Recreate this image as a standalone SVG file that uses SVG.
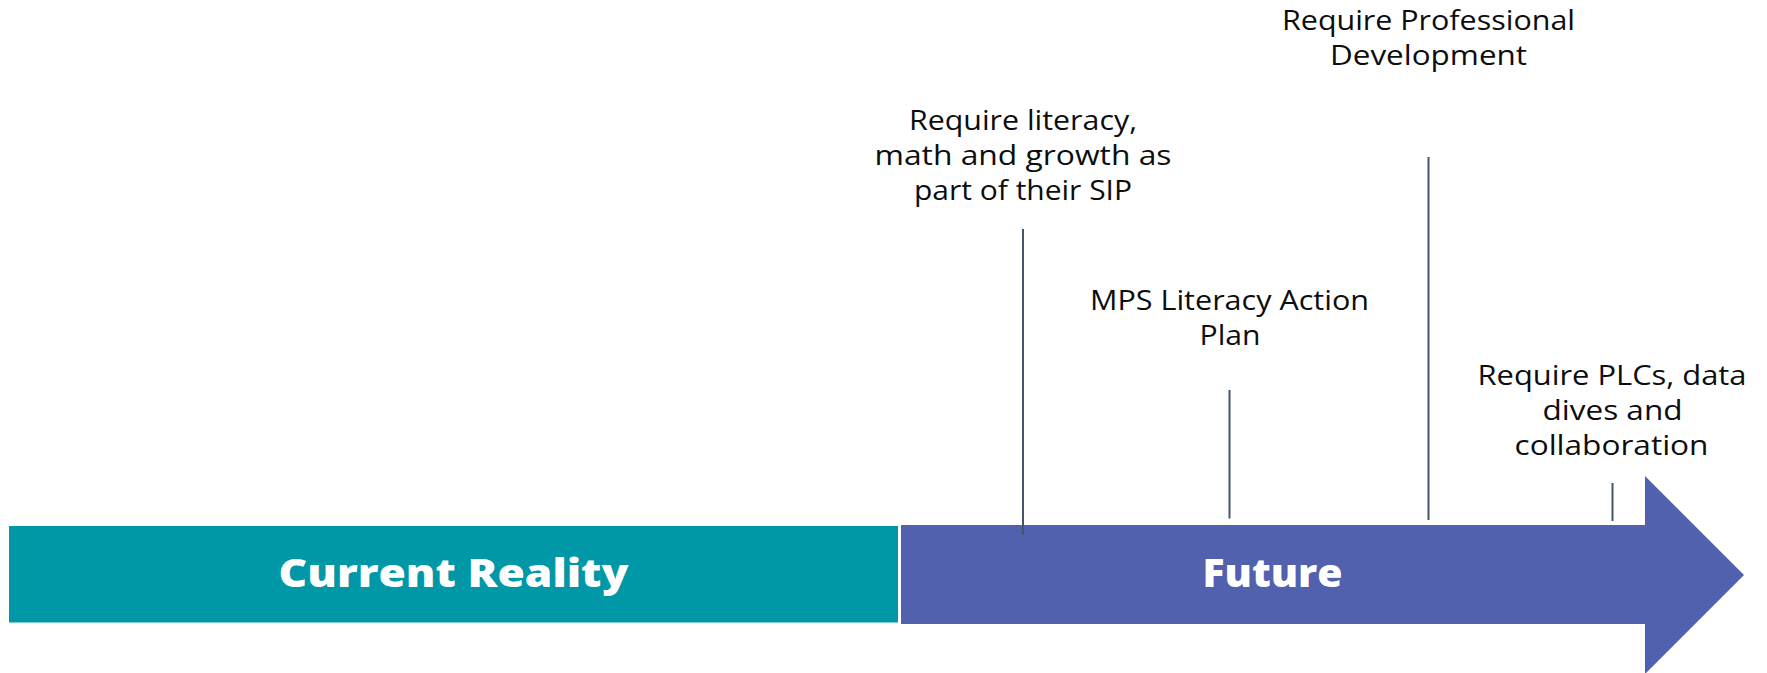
<svg xmlns="http://www.w3.org/2000/svg" width="1767" height="673" viewBox="0 0 1767 673">
  <style>
    .lbl { font-family: "Open Sans", "Liberation Sans", sans-serif; font-size: 27px; fill: #0d0d0d; text-anchor: middle; }
    .band { font-family: "Open Sans", "Liberation Sans", sans-serif; font-size: 39px; font-weight: 800; fill: #ffffff; text-anchor: middle; }
    .tick { stroke: #44546A; stroke-width: 2; fill: none; }
  </style>
  <rect width="1767" height="673" fill="#ffffff"/>
  <g id="current-reality">
    <rect x="9" y="526" width="889" height="96.5" fill="#0097A7"/>
    <text class="band" x="453.5" y="587" textLength="350" lengthAdjust="spacingAndGlyphs">Current Reality</text>
  </g>
  <g id="future">
    <path d="M901 525 H1645 V476 L1744 575 L1645 674 V624 H901 Z" fill="#5161AD"/>
    <text class="band" x="1272.5" y="587" textLength="140" lengthAdjust="spacingAndGlyphs">Future</text>
  </g>
  <g id="connectors">
    <line class="tick" x1="1023" y1="229" x2="1023" y2="535"/>
    <line class="tick" x1="1229.5" y1="390" x2="1229.5" y2="518.5"/>
    <line class="tick" x1="1428.5" y1="157" x2="1428.5" y2="520"/>
    <line class="tick" x1="1612.5" y1="483" x2="1612.5" y2="521"/>
  </g>
  <g id="sip">
    <text class="lbl" x="1023" y="130" textLength="228" lengthAdjust="spacingAndGlyphs">Require literacy,</text>
    <text class="lbl" x="1023" y="165" textLength="297" lengthAdjust="spacingAndGlyphs">math and growth as</text>
    <text class="lbl" x="1023" y="200" textLength="218" lengthAdjust="spacingAndGlyphs">part of their SIP</text>
  </g>
  <g id="literacy-plan">
    <text class="lbl" x="1229.5" y="309.5" textLength="279" lengthAdjust="spacingAndGlyphs">MPS Literacy Action</text>
    <text class="lbl" x="1230" y="344.5" textLength="61" lengthAdjust="spacingAndGlyphs">Plan</text>
  </g>
  <g id="professional-development">
    <text class="lbl" x="1428.5" y="29.5" textLength="293" lengthAdjust="spacingAndGlyphs">Require Professional</text>
    <text class="lbl" x="1428.5" y="64.5" textLength="197" lengthAdjust="spacingAndGlyphs">Development</text>
  </g>
  <g id="plcs">
    <text class="lbl" x="1612" y="384.5" textLength="269" lengthAdjust="spacingAndGlyphs">Require PLCs, data</text>
    <text class="lbl" x="1612.5" y="419.5" textLength="140" lengthAdjust="spacingAndGlyphs">dives and</text>
    <text class="lbl" x="1611.5" y="454.5" textLength="194" lengthAdjust="spacingAndGlyphs">collaboration</text>
  </g>
</svg>
